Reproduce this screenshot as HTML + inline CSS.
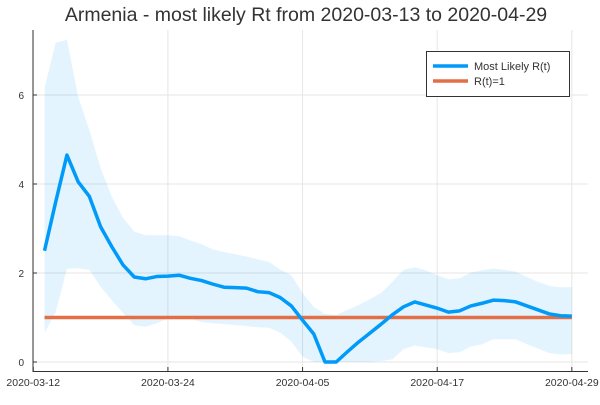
<!DOCTYPE html>
<html><head><meta charset="utf-8"><style>
body{margin:0;background:#fff;}
svg text{font-family:"Liberation Sans",sans-serif;}
</style></head><body>
<svg id="chart" width="600" height="400">
<text x="306" y="21" text-anchor="middle" font-size="19.5" fill="#333">Armenia - most likely Rt from 2020-03-13 to 2020-04-29</text>
<g id="grid"></g>
<g id="band"></g>
<g id="lines"></g>
<g id="axes"></g>
<g>
<rect x="426.5" y="51.5" width="143" height="45" fill="#fff" stroke="#333" stroke-width="1"/>
<line x1="433" y1="66" x2="468" y2="66" stroke="#009af9" stroke-width="3.5"/>
<text x="474" y="70" font-size="11" fill="#333">Most Likely R(t)</text>
<line x1="433" y1="81" x2="468" y2="81" stroke="#e26f46" stroke-width="3.5"/>
<text x="474" y="85" font-size="11" fill="#333">R(t)=1</text>
</g>
</svg>
<script>
const mean=[2.50,3.6,4.65,4.05,3.72,3.04,2.59,2.18,1.91,1.87,1.92,1.93,1.95,1.88,1.83,1.75,1.68,1.67,1.66,1.58,1.56,1.45,1.26,0.94,0.63,0.0,0.0,0.23,0.45,0.65,0.85,1.06,1.24,1.35,1.28,1.21,1.12,1.15,1.26,1.32,1.39,1.38,1.35,1.26,1.17,1.08,1.04,1.03];
const upper=[6.16,7.17,7.24,5.96,5.21,4.36,3.71,3.24,2.93,2.85,2.85,2.85,2.83,2.73,2.65,2.53,2.47,2.42,2.37,2.31,2.25,2.08,1.95,1.55,1.24,1.08,1.06,1.17,1.28,1.41,1.55,1.80,2.07,2.13,2.06,1.95,1.86,1.88,2.01,2.06,2.10,2.07,2.03,1.91,1.80,1.71,1.68,1.68];
const lower=[0.65,1.12,2.1,2.1,2.07,1.69,1.39,1.1,0.83,0.79,0.87,0.98,0.99,0.97,0.9,0.87,0.85,0.83,0.81,0.78,0.77,0.66,0.46,0.12,0.0,0,0,0,0,0,0.02,0.06,0.29,0.37,0.33,0.29,0.2,0.22,0.35,0.4,0.51,0.51,0.51,0.4,0.3,0.2,0.17,0.18];
const refValue=1;
const yTicks=[0,2,4,6];
const xTickDays=[-1,11,23,35,47];
const xTickLabels=["2020-03-12","2020-03-24","2020-04-05","2020-04-17","2020-04-29"];
const NS="http://www.w3.org/2000/svg";
function xs(d){return 44.5+d*11.22;}
function ys(v){return 362-v*44.5;}
function mk(tag,attrs,parent){const e=document.createElementNS(NS,tag);for(const k in attrs)e.setAttribute(k,attrs[k]);parent.appendChild(e);return e;}
const grid=document.getElementById('grid'),band=document.getElementById('band'),lines=document.getElementById('lines'),axes=document.getElementById('axes');
yTicks.forEach((t,i)=>{
 const g=mk('line',{x1:33,x2:588,y1:ys(t),y2:ys(t),stroke:'#e6e6e6','stroke-width':1},grid);
 
 
 const tk=mk('line',{x1:33,x2:37,y1:ys(t),y2:ys(t),stroke:'#333','stroke-width':1},axes);
 
 
 const tx=mk('text',{x:24,y:ys(t)+4,'text-anchor':'end','font-size':10,fill:'#333'},axes);
 tx.textContent=t;
 
 
});
xTickDays.forEach((d,i)=>{
 const g=mk('line',{x1:xs(d),x2:xs(d),y1:30,y2:371,stroke:'#e6e6e6','stroke-width':1},grid);
 
 
 const tk=mk('line',{x1:xs(d),x2:xs(d),y1:367,y2:371,stroke:'#333','stroke-width':1},axes);
 
 
 const tx=mk('text',{x:xs(d),y:386,'text-anchor':'middle','font-size':10.5,fill:'#333'},axes);
 tx.textContent=xTickLabels[i];
 
 
});
const ax=mk('path',{d:'M33,30 V371.5 H588',fill:'none',stroke:'#333','stroke-width':1},axes);


let bd=upper.map((v,i)=>(i?'L':'M')+xs(i)+','+ys(v)).join(' ');
for(let i=lower.length-1;i>=0;i--)bd+=' L'+xs(i)+','+ys(lower[i]);
const bp=mk('path',{d:bd+' Z',fill:'#009af9','fill-opacity':0.11,stroke:'none'},band);


const rl=mk('line',{x1:xs(0),x2:xs(mean.length-1),y1:ys(refValue),y2:ys(refValue),stroke:'#e26f46','stroke-width':3.5},lines);


const ml=mk('polyline',{points:mean.map((v,i)=>xs(i)+','+ys(v)).join(' '),fill:'none',stroke:'#009af9','stroke-width':3.5,'stroke-linejoin':'round'},lines);


</script>
</body></html>
